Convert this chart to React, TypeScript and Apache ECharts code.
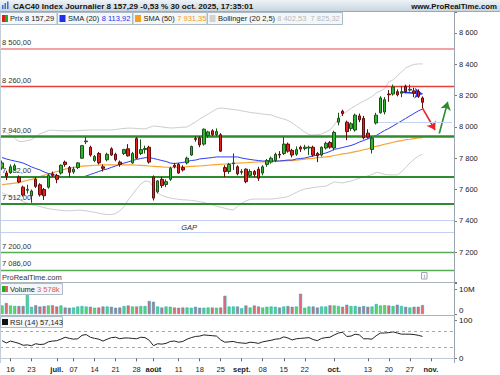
import React, { useEffect, useRef } from "react";
import * as echarts from "echarts";

// ---------- data ----------
const dates = [
  "06-12","06-13","06-16","06-17","06-18","06-19","06-20","06-23","06-24","06-25","06-26","06-27","06-30",
  "07-01","07-02","07-03","07-04","07-07","07-08","07-09","07-10","07-11","07-14","07-15","07-16","07-17","07-18","07-21","07-22","07-23","07-24","07-25","07-28","07-29","07-30","07-31",
  "08-01","08-04","08-05","08-06","08-07","08-08","08-11","08-12","08-13","08-14","08-15","08-18","08-19","08-20","08-21","08-22","08-25","08-26","08-27","08-28","08-29",
  "09-01","09-02","09-03","09-04","09-05","09-08","09-09","09-10","09-11","09-12","09-15","09-16","09-17","09-18","09-19","09-22","09-23","09-24","09-25","09-26","09-29","09-30",
  "10-01","10-02","10-03","10-06","10-07","10-08","10-09","10-10","10-13","10-14","10-15","10-16","10-17","10-20","10-21","10-22","10-23","10-24","10-27","10-28","10-29","10-30","10-31",
  "11-03","11-04","11-05","11-06","11-07","11-10",
];

// [open, close, low, high]
const candles: number[][] = [
  [7738,7770,7725,7785],[7705,7684,7660,7720],[7707,7745,7700,7760],[7728,7752,7720,7765],[7680,7648,7640,7690],
  [7615,7565,7555,7625],[7595,7600,7575,7630],[7560,7590,7515,7600],[7665,7620,7610,7680],[7630,7566,7555,7640],
  [7600,7560,7533,7610],[7615,7690,7605,7700],[7700,7690,7680,7715],[7690,7665,7640,7700],[7705,7755,7695,7760],
  [7775,7760,7745,7785],[7740,7710,7680,7750],[7712,7730,7700,7745],[7740,7770,7730,7775],[7800,7880,7795,7885],
  [7905,7910,7890,7935],[7870,7820,7810,7880],[7785,7810,7775,7820],[7830,7770,7760,7840],[7745,7735,7715,7760],
  [7790,7825,7780,7835],[7860,7820,7815,7870],[7825,7790,7780,7835],[7775,7760,7745,7785],[7830,7855,7820,7860],
  [7860,7815,7810,7890],[7770,7830,7765,7840],[7925,7800,7795,7935],[7830,7855,7820,7920],[7855,7862,7830,7880],
  [7870,7775,7765,7880],[7680,7545,7530,7690],[7585,7655,7575,7660],[7665,7625,7610,7680],[7632,7650,7615,7665],
  [7665,7735,7655,7745],[7755,7745,7735,7770],[7760,7705,7700,7770],[7740,7725,7715,7755],[7770,7800,7760,7810],
  [7820,7875,7815,7880],[7925,7920,7905,7940],[7930,7885,7870,7940],[7890,7985,7880,7990],[7945,7968,7930,7975],
  [7975,7950,7940,7985],[7950,7970,7940,7990],[7950,7845,7840,7960],[7740,7715,7680,7755],[7715,7760,7700,7770],
  [7765,7770,7725,7830],[7745,7700,7690,7755],[7710,7715,7695,7730],[7730,7650,7640,7735],[7690,7715,7680,7730],
  [7715,7695,7680,7725],[7730,7672,7655,7745],[7705,7745,7690,7755],[7760,7785,7745,7795],[7775,7800,7765,7810],
  [7785,7825,7775,7835],[7825,7820,7800,7845],[7830,7890,7820,7935],[7890,7845,7835,7900],[7850,7820,7805,7860],
  [7825,7855,7815,7875],[7870,7858,7840,7880],[7862,7870,7850,7885],[7865,7870,7820,7880],[7870,7820,7810,7880],
  [7830,7815,7775,7840],[7820,7870,7810,7875],[7865,7895,7855,7905],[7900,7870,7860,7910],[7865,7965,7850,7975],
  [8030,8055,8010,8090],[8100,8085,8070,8110],[8030,7970,7915,8040],[7990,8020,7975,8030],[7980,8075,7970,8085],
  [8070,8045,8030,8085],[8055,7930,7920,8070],[7960,7935,7925,7985],[7855,7928,7830,7940],[8025,8075,8015,8090],
  [8090,8185,8085,8195],[8095,8174,8080,8190],[8210,8205,8160,8235],[8210,8255,8200,8270],[8225,8205,8195,8240],
  [8215,8225,8190,8260],[8260,8225,8215,8270],[8235,8240,8225,8270],[8230,8215,8190,8250],[8225,8195,8185,8240],
  [8185,8157.29,8120,8195],
];

const sma20 = [
  7804,7795,7788,7782,7776,7769,7757,7744,7734,7725,
  7712,7702,7696,7689,7683,7677,7677,7677,7677,7680,
  7686,7696,7705,7715,7725,7731,7741,7750,7760,7769,
  7776,7785,7792,7798,7803,7804,7798,7792,7785,7779,
  7769,7766,7769,7773,7779,7785,7788,7795,7798,7801,
  7804,7808,7808,7808,7808,7808,7808,7801,7796,7792,
  7788,7785,7782,7782,7782,7782,7782,7785,7788,7788,
  7795,7798,7801,7808,7814,7820,7827,7833,7843,7856,
  7862,7868,7875,7881,7891,7903,7913,7923,7935,7945,
  7961,7977,7990,8006,8022,8038,8054,8070,8086,8102,
  8113.92,
];

const sma50 = [
  7631,7634,7638,7641,7644,7652,7659,7665,7673,7682,
  7691,7699,7707,7714,7722,7730,7737,7741,7744,7749,
  7751,7752,7755,7756,7757,7757,7757,7757,7757,7757,
  7757,7757,7755,7754,7752,7750,7748,7746,7744,7742,
  7741,7742,7743,7745,7746,7748,7749,7750,7752,7755,
  7757,7759,7761,7763,7765,7766,7768,7770,7771,7773,
  7774,7776,7777,7778,7780,7781,7782,7783,7784,7785,
  7788,7791,7794,7797,7799,7803,7805,7808,7812,7817,
  7822,7827,7831,7836,7842,7847,7854,7860,7870,7876,
  7882,7889,7895,7902,7907,7912,7918,7921,7925,7929,
  7931.35,
];

const bollUpper = [
  7980,7964,7948,7926,7907,7907,7913,7919,7935,7955,
  7965,7977,7979,7977,7976,7975,7974,7975,7976,7978,
  7979,7980,7980,7980,7980,7980,7980,7983,7987,7990,
  7992,7992,7990,7988,7987,7996,8006,8003,8000,7996,
  7993,7994,7996,7998,7999,8015,8031,8050,8066,8082,
  8098,8114,8121,8118,8114,8111,8108,8102,8098,8092,
  8089,8086,8082,8079,8076,8066,8057,8050,8041,8025,
  8006,7987,7967,7951,7948,7951,7955,7967,7980,8012,
  8050,8082,8098,8118,8134,8150,8165,8178,8194,8217,
  8229,8245,8287,8300,8325,8351,8376,8389,8399,8402,
  8402.53,
];

const bollLower = [
  7578,7568,7558,7549,7537,7523,7512,7503,7497,7491,
  7484,7478,7473,7470,7467,7464,7464,7466,7468,7467,
  7463,7459,7454,7449,7443,7440,7440,7446,7463,7491,
  7533,7568,7603,7635,7654,7651,7616,7578,7562,7552,
  7546,7541,7537,7534,7533,7530,7527,7522,7518,7509,
  7501,7493,7487,7480,7473,7469,7491,7512,7527,7537,
  7539,7539,7539,7539,7539,7542,7546,7549,7555,7568,
  7581,7594,7603,7608,7613,7616,7619,7621,7635,7648,
  7645,7642,7648,7654,7663,7672,7680,7687,7696,7709,
  7705,7696,7693,7693,7693,7712,7741,7769,7792,7813,
  7825.32,
];

// millions
const volumes = [
  3.4,4.4,3.4,3.2,3.2,3.2,8.4,2.9,3.5,3.0,
  3.2,3.4,3.5,3.0,3.4,2.6,2.5,2.6,3.0,3.2,
  3.0,2.9,2.5,2.6,3.0,3.0,2.9,2.5,2.6,3.2,
  3.4,3.0,3.0,3.2,3.2,5.2,4.9,3.0,2.6,3.0,
  2.9,2.6,2.5,2.6,2.6,2.5,2.9,2.5,2.5,2.6,
  2.6,2.5,2.6,7.3,3.0,3.0,3.0,2.3,3.4,2.6,
  3.4,3.0,2.6,2.9,3.0,2.9,2.6,3.0,3.2,2.9,
  3.0,8.1,2.5,3.0,3.0,2.6,3.0,3.0,3.5,3.4,
  3.2,2.9,3.7,3.2,3.2,2.9,3.2,2.9,3.0,4.0,
  3.4,3.5,3.4,3.2,3.7,3.2,2.9,2.6,2.9,2.9,
  3.578,
];

const rsi = [
  46,40,45,42,39,34,35,33,38,36,
  37,43,45,46,50,55,52,50,51,60,
  62,55,52,50,45,50,54,55,51,53,
  53,52,51,55,54,47,33,38,37,39,
  44,45,42,44,50,54,57,58,61,60,
  59,58,48,42,43,44,41,40,39,42,
  41,39,43,45,47,50,51,56,53,48,
  51,52,53,54,49,46,52,54,55,61,
  66,68,57,58,63,61,51,51,50,59,
  66,66,67,69,66,63,63,63,62,60,
  57.143,
];

const xTickDates = ["06-16","06-23","07-01","07-07","07-14","07-21","07-28","08-01","08-11","08-18","08-25","09-01","09-08","09-15","09-22","10-01","10-13","10-20","10-27","11-03"];
const xTickLabels = ["16","23","juil.","07","14","21","28","août","11","18","25","sept.","08","15","22","oct.","13","20","27","nov."];
const monthLabels = ["juil.","août","sept.","oct.","nov."];

const levelValues = [8500, 8260, 7940, 7682, 7512, 7200, 7086];
const gapBounds = [7401, 7327];
const shortLevel = 8027;
const shortLevelFrom = "10-15";
const gapLabelAt = { date: "08-13", value: 7357 };
const arrowBlue = [["10-23", 8222], ["10-30", 8212]];
const arrowRed = [["10-30", 8120], ["11-04", 7980]];
const arrowGreen = [["11-05", 7958], ["11-07", 8160]];

const lastClose = 8157.29;
const lastVolume = 3.578;
const lastRsi = 57.143;

// ---------- styles ----------
const FONT = "'Liberation Sans', Arial, Helvetica, sans-serif";
const levelColors = ["#f3a3a3", "#e8413b", "#2e8b2e", "#2e8b2e", "#2e8b2e", "#56ad56", "#56ad56"];
const levelWidths = [2, 1.3, 2.6, 2, 2, 1.4, 1.4];

function fr(v: number, d: number): string {
  const s = v.toFixed(d).split(".");
  const g = s[0].replace(/\B(?=(\d{3})+(?!\d))/g, " ");
  return s[1] ? g + "," + s[1] : g;
}

function buildOption() {
  const up = (i: number) => candles[i][1] >= candles[i][0];
  const tickSet = new Set(xTickDates);
  const xAxes = [0, 1, 2].map((g) => ({
    type: "category",
    gridIndex: g,
    data: dates,
    boundaryGap: true,
    offset: g === 2 ? 4 : 0,
    axisLine: { show: g === 2, lineStyle: { color: "#c2c9d0", width: 1 } },
    axisTick: {
      show: g === 2,
      alignWithLabel: true,
      length: 3,
      interval: (_i: number, v: string) => tickSet.has(v),
      lineStyle: { color: "#666" },
    },
    axisLabel: {
      show: g === 2,
      interval: (_i: number, v: string) => tickSet.has(v),
      formatter: (v: string) => {
        const t = xTickLabels[xTickDates.indexOf(v)] || "";
        return monthLabels.indexOf(t) >= 0 ? "{m|" + t + "}" : t;
      },
      color: "#222",
      fontSize: 7.5,
      fontFamily: FONT,
      margin: 3,
      rich: { m: { fontWeight: "bold", fontSize: 7.5, color: "#222", fontFamily: FONT } },
    },
    splitLine: { show: false },
  }));

  const yCommon = {
    position: "right",
    axisLine: { show: false },
    axisTick: { show: true, length: 3, lineStyle: { color: "#777" } },
    splitLine: { show: false },
  };

  return {
    animation: false,
    textStyle: { fontFamily: FONT },
    grid: [
      { left: 0, top: 12, width: 454, height: 271.4 },
      { left: 0, top: 282, width: 454, height: 32 },
      { left: 0, top: 320, width: 454, height: 38.3 },
    ],
    xAxis: xAxes,
    yAxis: [
      {
        ...yCommon, gridIndex: 0, min: 7000, max: 8734, interval: 200,
        axisLabel: {
          margin: 5, fontSize: 7.5, color: "#222", fontFamily: FONT,
          formatter: (v: number) => (v % 200 === 0 && v > 7000 ? fr(v, 0) : ""),
        },
      },
      {
        ...yCommon, gridIndex: 1, min: 0, max: 12.8, interval: 10,
        axisLabel: {
          margin: 5, fontSize: 8, color: "#111", fontFamily: FONT,
          formatter: (v: number) => (v === 10 ? "{t|10M}" : v === 0 ? "{z|0}" : ""),
          rich: {
            t: { fontSize: 8, color: "#111", fontFamily: FONT },
            z: { fontSize: 8, color: "#111", fontFamily: FONT, padding: [0, 0, 7, 0] },
          },
        },
      },
      {
        ...yCommon, gridIndex: 2, min: 0, max: 100, interval: 100,
        axisLabel: { margin: 5, fontSize: 8, color: "#111", fontFamily: FONT },
      },
    ],
    series: [
      {
        type: "line", xAxisIndex: 0, yAxisIndex: 0, data: bollUpper, showSymbol: false, z: 2,
        lineStyle: { color: "#cdcdcd", width: 1 }, silent: true,
      },
      {
        type: "line", xAxisIndex: 0, yAxisIndex: 0, data: bollLower, showSymbol: false, z: 2,
        lineStyle: { color: "#cdcdcd", width: 1 }, silent: true,
      },
      {
        type: "line", xAxisIndex: 0, yAxisIndex: 0, data: sma50, showSymbol: false, z: 3,
        lineStyle: { color: "#f6a530", width: 1.2 }, silent: true,
      },
      {
        type: "line", xAxisIndex: 0, yAxisIndex: 0, data: sma20, showSymbol: false, z: 3,
        lineStyle: { color: "#2f3cee", width: 1 }, silent: true,
        markLine: {
          silent: true, symbol: ["none", "arrow"], symbolSize: 8, animation: false,
          label: { show: false },
          data: [
            [
              { coord: arrowBlue[0], lineStyle: { color: "#2b3ae6", width: 1.6, type: "solid" } },
              { coord: arrowBlue[1], lineStyle: { color: "#2b3ae6", width: 1.6, type: "solid" } },
            ],
            [
              { coord: arrowRed[0], lineStyle: { color: "#e8262a", width: 1.6, type: "solid" } },
              { coord: arrowRed[1], lineStyle: { color: "#e8262a", width: 1.6, type: "solid" } },
            ],
            [
              { coord: arrowGreen[0], lineStyle: { color: "#2a8c2a", width: 1.6, type: "solid" } },
              { coord: arrowGreen[1], lineStyle: { color: "#2a8c2a", width: 1.6, type: "solid" } },
            ],
          ],
        },
      },
      {
        type: "candlestick", xAxisIndex: 0, yAxisIndex: 0, data: candles, barWidth: 3, z: 5,
        itemStyle: {
          color: "#2fb52f", color0: "#e3201b", borderColor: "#1c4f1c", borderColor0: "#5e0e0e", borderWidth: 1,
        },
        markLine: {
          silent: true, symbol: ["none", "none"], animation: false,
          data: [
            ...levelValues.map((v, k) => ({
              yAxis: v,
              lineStyle: { color: levelColors[k], width: levelWidths[k], type: "solid" },
              label: {
                show: true, position: "insideStartTop", formatter: fr(v, 2),
                color: "#333", fontSize: 7.5, fontFamily: FONT, distance: 2,
              },
            })),
            ...gapBounds.map((v) => ({
              yAxis: v, lineStyle: { color: "#c3d0f5", width: 1.2, type: "solid" }, label: { show: false },
            })),
            [
              { coord: [shortLevelFrom, shortLevel], lineStyle: { color: "#c6d3f5", width: 1.2, type: "solid" }, label: { show: false } },
              { coord: [dates[dates.length - 1], shortLevel], lineStyle: { color: "#c6d3f5", width: 1.2, type: "solid" }, label: { show: false } },
            ],
            {
              yAxis: lastClose,
              lineStyle: { opacity: 0 },
              label: {
                show: true, position: "end", formatter: fr(lastClose, 2), distance: 2,
                backgroundColor: "#f6d11b", color: "#000", fontWeight: "bold", fontSize: 8.5,
                fontFamily: FONT, padding: [2, 2, 1, 2],
              },
            },
          ],
        },
        markPoint: {
          silent: true, symbol: "circle", symbolSize: 0, animation: false,
          data: [{
            coord: [gapLabelAt.date, gapLabelAt.value],
            label: {
              show: true, formatter: "GAP", fontStyle: "italic", color: "#333", fontSize: 7.5,
              fontFamily: FONT, position: "inside", offset: [2, 0],
            },
          }],
        },
      },
      {
        type: "bar", xAxisIndex: 1, yAxisIndex: 1, data: volumes, barWidth: 3, silent: true,
        itemStyle: {
          color: (p: any) => (up(p.dataIndex) ? "#5fd45f" : "#e46a6a"),
          borderColor: (p: any) => (up(p.dataIndex) ? "#2f8f2f" : "#a83030"),
          borderWidth: 0.5,
        } as any,
        markLine: {
          silent: true, symbol: ["none", "none"], animation: false,
          data: [{
            yAxis: lastVolume, lineStyle: { opacity: 0 },
            label: {
              show: true, position: "end", formatter: "3 578k", distance: 2, color: "#e05a5a",
              backgroundColor: "#fff", borderColor: "#9aa6b2", borderWidth: 1, fontSize: 8,
              fontFamily: FONT, padding: [1, 2, 0, 2],
            },
          }],
        },
      },
      {
        type: "line", xAxisIndex: 2, yAxisIndex: 2, data: rsi, showSymbol: false, silent: true,
        lineStyle: { color: "#222", width: 1 },
        markLine: {
          silent: true, symbol: ["none", "none"], animation: false,
          data: [
            { yAxis: 70, lineStyle: { color: "#a8a8a8", width: 1, type: [3, 3] }, label: { show: false } },
            { yAxis: 30, lineStyle: { color: "#a8a8a8", width: 1, type: [3, 3] }, label: { show: false } },
            {
              yAxis: lastRsi, lineStyle: { opacity: 0 },
              label: {
                show: true, position: "end", formatter: fr(lastRsi, 3), distance: 2, color: "#222",
                backgroundColor: "#fff", borderColor: "#9aa6b2", borderWidth: 1, fontSize: 8,
                fontFamily: FONT, padding: [1, 2, 0, 2],
              },
            },
          ],
        },
      },
    ],
    graphic: [
      {
        type: "rect", z: 100, silent: true, shape: { x: 0, y: 0, width: 500, height: 11 },
        style: {
          fill: new echarts.graphic.LinearGradient(0, 0, 0, 1, [
            { offset: 0, color: "#eef3f7" }, { offset: 1, color: "#c9d6e0" },
          ]),
        },
      },
      { type: "line", z: 100, silent: true, shape: { x1: 0, y1: 11.5, x2: 500, y2: 11.5 }, style: { stroke: "#98aab9", lineWidth: 1 } },
      { type: "rect", z: 101, silent: true, shape: { x: 2, y: 5, width: 1.5, height: 4 }, style: { fill: "#3a6fd6" } },
      { type: "rect", z: 101, silent: true, shape: { x: 4.5, y: 3, width: 1.5, height: 6 }, style: { fill: "#3a6fd6" } },
      { type: "rect", z: 101, silent: true, shape: { x: 7, y: 1.5, width: 1.5, height: 7.5 }, style: { fill: "#3a6fd6" } },
      {
        type: "text", z: 101, silent: true, x: 13, y: 6,
        style: {
          text: "CAC40 Index Journalier 8 157,29 -0,53 % 30 oct. 2025, 17:35:01",
          fill: "#111", fontSize: 8.1, fontWeight: "bold", fontFamily: FONT, verticalAlign: "middle",
        },
      },
      {
        type: "text", z: 101, silent: true, x: 497, y: 6,
        style: {
          text: "www.ProRealTime.com", fill: "#111", fontSize: 7.8, fontWeight: "bold",
          fontFamily: FONT, align: "right", verticalAlign: "middle",
        },
      },
      // legend boxes
      { type: "rect", z: 100, silent: true, shape: { x: 0.5, y: 12.5, width: 56.5, height: 12 }, style: { fill: "#f4f7f9", stroke: "#aebbc7", lineWidth: 1 } },
      { type: "rect", z: 100, silent: true, shape: { x: 57.5, y: 12.5, width: 75, height: 12 }, style: { fill: "#f4f7f9", stroke: "#aebbc7", lineWidth: 1 } },
      { type: "rect", z: 100, silent: true, shape: { x: 133, y: 12.5, width: 74, height: 12 }, style: { fill: "#f4f7f9", stroke: "#aebbc7", lineWidth: 1 } },
      { type: "rect", z: 100, silent: true, shape: { x: 207.5, y: 12.5, width: 135, height: 12 }, style: { fill: "#f4f7f9", stroke: "#aebbc7", lineWidth: 1 } },
      { type: "rect", z: 101, silent: true, shape: { x: 2, y: 15, width: 3, height: 7 }, style: { fill: "#d42020" } },
      { type: "rect", z: 101, silent: true, shape: { x: 5, y: 15, width: 3, height: 7 }, style: { fill: "#22aa22" } },
      { type: "rect", z: 101, silent: true, shape: { x: 59.5, y: 15, width: 6, height: 7 }, style: { fill: "#1f2ff0" } },
      { type: "rect", z: 101, silent: true, shape: { x: 135, y: 15, width: 6, height: 7 }, style: { fill: "#f7a020" } },
      { type: "rect", z: 101, silent: true, shape: { x: 209.5, y: 15, width: 6, height: 7 }, style: { fill: "#d2d2d2" } },
      {
        type: "text", z: 101, silent: true, x: 10, y: 18.7,
        style: { text: "Prix 8 157,29", fill: "#222", fontSize: 7.5, fontFamily: FONT, verticalAlign: "middle" },
      },
      {
        type: "text", z: 101, silent: true, x: 68, y: 18.7,
        style: {
          text: "{a|SMA (20)} {b|8 113,92}", fontSize: 7.5, fontFamily: FONT, verticalAlign: "middle",
          rich: { a: { fill: "#222", fontSize: 7.5, fontFamily: FONT }, b: { fill: "#2433f0", fontSize: 7.5, fontFamily: FONT } },
        },
      },
      {
        type: "text", z: 101, silent: true, x: 143.5, y: 18.7,
        style: {
          text: "{a|SMA (50)} {b|7 931,35}", fontSize: 7.5, fontFamily: FONT, verticalAlign: "middle",
          rich: { a: { fill: "#222", fontSize: 7.5, fontFamily: FONT }, b: { fill: "#f19a20", fontSize: 7.5, fontFamily: FONT } },
        },
      },
      {
        type: "text", z: 101, silent: true, x: 218, y: 18.7,
        style: {
          text: "{a|Bollinger (20 2,5)} {b|8 402,53  7 825,32}", fontSize: 7.5, fontFamily: FONT, verticalAlign: "middle",
          rich: { a: { fill: "#222", fontSize: 7.5, fontFamily: FONT }, b: { fill: "#b9b9b9", fontSize: 7.5, fontFamily: FONT } },
        },
      },
      // right axis line & panel separators
      { type: "line", z: 100, silent: true, shape: { x1: 454.5, y1: 12, x2: 454.5, y2: 363 }, style: { stroke: "#9aa5b0", lineWidth: 1 } },
      { type: "line", z: 100, silent: true, shape: { x1: 0, y1: 282.5, x2: 454.5, y2: 282.5 }, style: { stroke: "#a9b4be", lineWidth: 1 } },
      { type: "line", z: 100, silent: true, shape: { x1: 0, y1: 315.5, x2: 454.5, y2: 315.5 }, style: { stroke: "#a9b4be", lineWidth: 1 } },
      { type: "line", z: 100, silent: true, shape: { x1: 0.5, y1: 12, x2: 0.5, y2: 363 }, style: { stroke: "#c5ced6", lineWidth: 1 } },
      {
        type: "text", z: 101, silent: true, x: 2, y: 277.5,
        style: { text: "ProRealTime.com", fill: "#333", fontSize: 7.5, fontFamily: FONT, verticalAlign: "middle" },
      },
      { type: "rect", z: 101, silent: true, shape: { x: 421.5, y: 272.5, width: 5.5, height: 6.5 }, style: { fill: "#fff", stroke: "#9aa5b0", lineWidth: 1 } },
      {
        type: "text", z: 102, silent: true, x: 424.3, y: 276,
        style: { text: "i", fill: "#667", fontSize: 6, fontFamily: FONT, align: "center", verticalAlign: "middle" },
      },
      // volume legend
      { type: "rect", z: 100, silent: true, shape: { x: 0.5, y: 283.5, width: 62, height: 11 }, style: { fill: "#f4f7f9", stroke: "#aebbc7", lineWidth: 1 } },
      { type: "rect", z: 101, silent: true, shape: { x: 2, y: 286, width: 3, height: 6 }, style: { fill: "#22aa22" } },
      { type: "rect", z: 101, silent: true, shape: { x: 5, y: 286, width: 3, height: 6 }, style: { fill: "#e06060" } },
      {
        type: "text", z: 101, silent: true, x: 10, y: 289.3,
        style: {
          text: "{a|Volume} {b|3 578k}", fontSize: 7.5, fontFamily: FONT, verticalAlign: "middle",
          rich: { a: { fill: "#222", fontSize: 7.5, fontFamily: FONT }, b: { fill: "#e05a5a", fontSize: 7.5, fontFamily: FONT } },
        },
      },
      // rsi legend
      { type: "rect", z: 100, silent: true, shape: { x: 0.5, y: 316.5, width: 62, height: 11 }, style: { fill: "#f4f7f9", stroke: "#aebbc7", lineWidth: 1 } },
      { type: "rect", z: 101, silent: true, shape: { x: 2, y: 319, width: 6, height: 6 }, style: { fill: "#111" } },
      {
        type: "text", z: 101, silent: true, x: 10, y: 322.3,
        style: { text: "RSI (14) 57,143", fill: "#222", fontSize: 7.5, fontFamily: FONT, verticalAlign: "middle" },
      },
    ],
  };
}

export default function App() {
  const ref = useRef<HTMLDivElement>(null);
  useEffect(() => {
    document.body.style.margin = "0";
    const chart = echarts.init(ref.current as HTMLDivElement, undefined, { renderer: "svg", width: 500, height: 375 });
    chart.setOption(buildOption() as any);
    return () => chart.dispose();
  }, []);
  return (
    <div
      ref={ref}
      style={{ position: "absolute", left: 0, top: 0, width: 500, height: 375, background: "#fff" }}
    />
  );
}
